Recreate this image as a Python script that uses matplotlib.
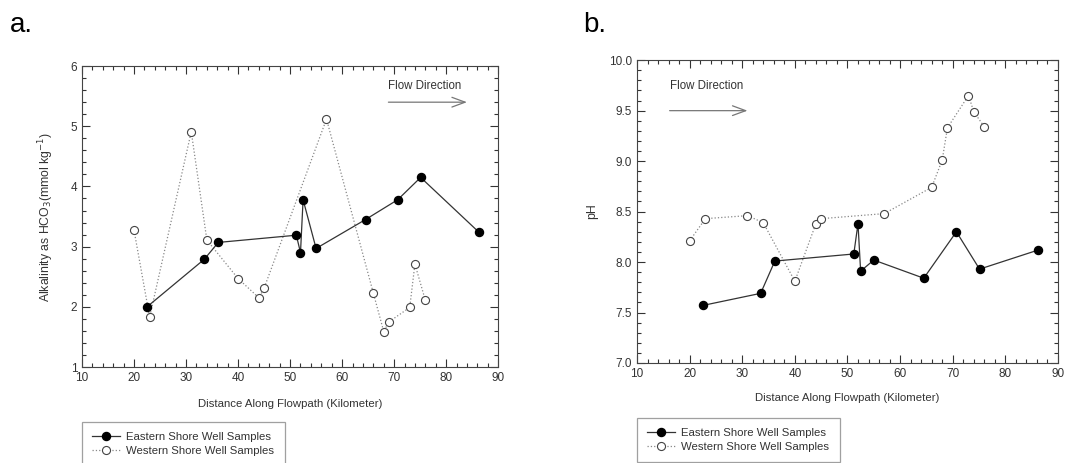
import numpy as np
from matplotlib import pyplot as plt
from matplotlib.ticker import MultipleLocator

plt.rcParams['font.family'] = ['Liberation Sans', 'DejaVu Sans']
plt.rcParams['font.size'] = 8
plt.rcParams['text.color'] = '#333333'
plt.rcParams['axes.labelcolor'] = '#333333'
plt.rcParams['xtick.color'] = '#333333'
plt.rcParams['ytick.color'] = '#333333'

# distance along flowpath (km)
east_km = [22.5, 33.5, 36.2, 51.2, 52.0, 52.5, 55.0, 64.5, 70.7, 75.1, 86.3]
west_km = [20.0, 23.0, 31.0, 34.0, 40.0, 44.0, 45.0, 57.0, 66.0, 68.0, 69.0, 73.0, 74.0, 76.0]

# alkalinity as HCO3 (mmol/kg)
east_alk = [2.0, 2.79, 3.07, 3.19, 2.90, 3.78, 2.97, 3.45, 3.78, 4.15, 3.24]
west_alk = [3.27, 1.83, 4.91, 3.11, 2.47, 2.15, 2.31, 5.12, 2.23, 1.59, 1.75, 1.99, 2.71, 2.11]

# pH
east_ph = [7.57, 7.69, 8.01, 8.08, 8.38, 7.91, 8.02, 7.84, 8.30, 7.93, 8.12]
west_ph = [8.21, 8.43, 8.46, 8.39, 7.81, 8.38, 8.43, 8.48, 8.74, 9.01, 9.33, 9.65, 9.49, 9.34]

fig = plt.figure(figsize=(10.78, 4.63), dpi=100)
ax0 = fig.add_axes([0.0761, 0.2073, 0.386, 0.650])
ax1 = fig.add_axes([0.5909, 0.2160, 0.3905, 0.654])


def draw(ax, ye, yw):
    le, = ax.plot(east_km, ye, '-', color='#333333', lw=0.9, marker='o', ms=5.8,
                  mfc='black', mec='black', label='Eastern Shore Well Samples', zorder=3)
    lw_, = ax.plot(west_km, yw, ':', color='#888888', lw=0.9, marker='o', ms=5.8,
                   mfc='white', mec='#444444', mew=0.8, label='Western Shore Well Samples', zorder=2)
    ax.set_xlim(10, 90)
    ax.xaxis.set_major_locator(MultipleLocator(10))
    ax.xaxis.set_minor_locator(MultipleLocator(2))
    ax.tick_params(which='both', direction='in', top=True, right=True, width=0.8)
    ax.tick_params(which='major', length=6, labelsize=8.5)
    ax.tick_params(which='minor', length=3)
    for s in ax.spines.values():
        s.set_color('#444444')
        s.set_linewidth(0.8)
    ax.set_xlabel('Distance Along Flowpath (Kilometer)', fontsize=8.2)
    return le, lw_


h0 = draw(ax0, east_alk, west_alk)
ax0.set_ylim(1, 6)
ax0.yaxis.set_major_locator(MultipleLocator(1))
ax0.yaxis.set_minor_locator(MultipleLocator(0.2))
ax0.set_ylabel('Alkalinity as HCO$_3$(mmol kg$^{-1}$)', fontsize=8.8)
ax0.xaxis.set_label_coords(0.5, -0.105)
ax0.yaxis.set_label_coords(-0.062, 0.5)
ax0.text(68.9, 5.67, 'Flow Direction', fontsize=8.3, va='center', ha='left')
ax0.annotate('', xy=(84.0, 5.40), xytext=(68.9, 5.40),
             arrowprops=dict(arrowstyle='->,head_length=0.95,head_width=0.35',
                             color='#777777', lw=0.9, shrinkA=0, shrinkB=0,
                             mutation_scale=10))

h1 = draw(ax1, east_ph, west_ph)
ax1.set_ylim(7.0, 10.0)
ax1.yaxis.set_major_locator(MultipleLocator(0.5))
ax1.yaxis.set_minor_locator(MultipleLocator(0.1))
ax1.yaxis.set_major_formatter('{x:.1f}')
ax1.set_ylabel('pH', fontsize=8.8)
ax1.xaxis.set_label_coords(0.5, -0.10)
ax1.yaxis.set_label_coords(-0.093, 0.5)
ax1.text(16.2, 9.74, 'Flow Direction', fontsize=8.3, va='center', ha='left')
ax1.annotate('', xy=(31.0, 9.50), xytext=(16.2, 9.50),
             arrowprops=dict(arrowstyle='->,head_length=0.95,head_width=0.35',
                             color='#777777', lw=0.9, shrinkA=0, shrinkB=0,
                             mutation_scale=10))

fig.text(0.009, 0.931, 'a.', fontsize=20, ha='left', va='baseline', color='black')
fig.text(0.541, 0.931, 'b.', fontsize=20, ha='left', va='baseline', color='black')

for h, x0, y0 in [(h0, 0.0761, 0.0886), (h1, 0.5909, 0.0972)]:
    leg = fig.legend(handles=list(h), loc='upper left', bbox_to_anchor=(x0, y0),
                     fontsize=8.2, frameon=True, fancybox=False, borderpad=0.9,
                     handlelength=2.4, handletextpad=0.6, labelspacing=0.3,
                     borderaxespad=0)
    leg.get_frame().set_edgecolor('#888888')
    leg.get_frame().set_linewidth(0.9)

fig.savefig('out.png', dpi=100)
